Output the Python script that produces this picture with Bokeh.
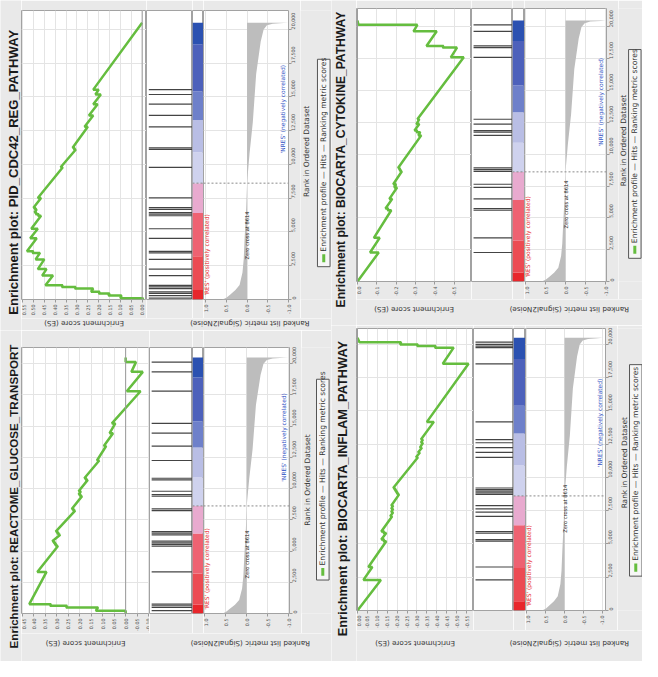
import math
from bokeh.plotting import figure
from bokeh.layouts import row, column
from bokeh.models import (Range1d, FixedTicker, PrintfTickFormatter, NumeralTickFormatter,
                          Label, Grid, Span)
from bokeh.core.properties import value
from bokeh.embed import file_html
from bokeh.resources import INLINE

SX = 642 / 658
SY = 661 / 677

# ---------------- data ----------------
ZERO_CROSS = 8614
RANK_TICKS = [0, 2500, 5000, 7500, 10000, 12500, 15000, 17500, 20000]
METRIC_TICKS = [1.0, 0.5, 0.0, -0.5, -1.0]

METRIC_RANK = [0, 50, 150, 360, 700, 1080, 2000, 3000, 4400, 6800, 8614, 10800,
               13150, 16700, 19100, 20000, 20300, 20420, 20470, 20500]
METRIC_VALUE = [0.62, 0.55, 0.49, 0.41, 0.28, 0.18, 0.11, 0.08, 0.06, 0.02, 0.0, -0.06,
                -0.14, -0.22, -0.33, -0.40, -0.48, -0.62, -0.88, -1.0]

BAR_EDGES = [0, 700, 3200, 6400, 8600, 10900, 13300, 15400, 18900, 20500]
BAR_COLORS = ["#e8262b", "#ec4b53", "#ee6272", "#e8aacf", "#cfd2ee", "#b9bee5",
              "#6e80ca", "#4d61bb", "#2b51b1"]

POS_LABEL = "'RES' (positively correlated)"
NEG_LABEL = "'NRES' (negatively correlated)"
LEGEND_TEXT = "Enrichment profile \u2014 Hits \u2014 Ranking metric scores"
ES_LABEL = "Enrichment score (ES)"
METRIC_LABEL = "Ranked list metric (Signal2Noise)"
RANK_LABEL = "Rank in Ordered Dataset"

TL_TITLE = "Enrichment plot: PID_CDC42_REG_PATHWAY"
TL_ES_TICKS = [0.55, 0.50, 0.45, 0.40, 0.35, 0.30, 0.25, 0.20, 0.15, 0.10, 0.05, 0.00]
TL_HITS = [100, 290, 450, 570, 810, 930, 1050, 1770, 2250, 2970, 3450, 3570, 4530, 5240,
           6200, 6320, 6440, 6680, 6800, 7520, 9790, 11110, 11230, 12790, 13630, 14460,
           15180, 15540]
TL_ES = [(0, 0.0), (100, -0.005), (100, 0.10), (290, 0.095), (290, 0.155), (450, 0.15),
         (450, 0.20), (570, 0.195), (570, 0.235), (810, 0.225), (810, 0.31), (930, 0.305),
         (930, 0.37), (1050, 0.365), (1050, 0.445), (1770, 0.41), (1770, 0.46), (2250, 0.44),
         (2250, 0.48), (2970, 0.45), (2970, 0.49), (3450, 0.47), (3450, 0.505), (3570, 0.50),
         (3570, 0.53), (4530, 0.485), (4530, 0.515), (5240, 0.48), (5240, 0.51), (6200, 0.465),
         (6200, 0.48), (6320, 0.475), (6320, 0.49), (6440, 0.485), (6440, 0.495), (6680, 0.485),
         (6680, 0.495), (6800, 0.49), (6800, 0.50), (7520, 0.465), (7520, 0.48), (9790, 0.365),
         (9790, 0.375), (11110, 0.305), (11110, 0.315), (11230, 0.31), (11230, 0.32),
         (12790, 0.25), (12790, 0.265), (13630, 0.225), (13630, 0.245), (14460, 0.205),
         (14460, 0.225), (15180, 0.19), (15180, 0.215), (15540, 0.20), (15540, 0.225),
         (20500, 0.0)]

TR_TITLE = "Enrichment plot: BIOCARTA_CYTOKINE_PATHWAY"
TR_ES_TICKS = [0.0, -0.1, -0.2, -0.3, -0.4, -0.5]
TR_HITS = [2280, 3430, 5600, 5730, 6490, 7390, 7640, 8660, 8790, 8920, 11480, 11730, 11860,
           12370, 12750, 17610, 18380, 18510, 19660, 20170]
TR_ES = [(0, 0.0), (2280, -0.11), (2280, -0.065), (3430, -0.115), (3430, -0.085),
         (5600, -0.175), (5600, -0.155), (5730, -0.16), (5730, -0.145), (6490, -0.18),
         (6490, -0.165), (7390, -0.205), (7390, -0.19), (7640, -0.2), (7640, -0.185),
         (8660, -0.23), (8660, -0.22), (8790, -0.225), (8790, -0.215), (8920, -0.22),
         (8920, -0.21), (11480, -0.33), (11480, -0.315), (11730, -0.325), (11730, -0.305),
         (11860, -0.31), (11860, -0.295), (12370, -0.32), (12370, -0.305), (12750, -0.32),
         (12750, -0.31), (17610, -0.55), (17610, -0.483), (18380, -0.515), (18380, -0.44),
         (18510, -0.446), (18510, -0.357), (19660, -0.41), (19660, -0.29), (20170, -0.31),
         (20170, -0.005), (20500, 0.0)]

BL_TITLE = "Enrichment plot: REACTOME_GLUCOSE_TRANSPORT"
BL_ES_TICKS = [0.45, 0.40, 0.35, 0.30, 0.25, 0.20, 0.15, 0.10, 0.05, 0.00, -0.05, -0.10]
BL_HITS = [230, 490, 620, 750, 3330, 5400, 5530, 5660, 5790, 6300, 6430, 6560, 8240, 8370,
           9400, 9530, 9790, 10700, 10830, 12250, 13410, 14440, 15220, 17800, 19350, 20130]
BL_ES = [(0, 0.0), (230, 0.0), (230, 0.13), (490, 0.12), (490, 0.26), (620, 0.255),
         (620, 0.33), (750, 0.325), (750, 0.42), (3330, 0.345), (3330, 0.385), (5400, 0.295),
         (5400, 0.305), (5530, 0.30), (5530, 0.31), (5660, 0.305), (5660, 0.315), (5790, 0.31),
         (5790, 0.32), (6300, 0.285), (6300, 0.295), (6430, 0.29), (6430, 0.30), (6560, 0.295),
         (6560, 0.305), (8240, 0.22), (8240, 0.23), (8370, 0.225), (8370, 0.235), (9400, 0.19),
         (9400, 0.20), (9530, 0.195), (9530, 0.205), (9790, 0.195), (9790, 0.205),
         (10700, 0.165), (10700, 0.175), (10830, 0.17), (10830, 0.18), (12250, 0.115),
         (12250, 0.125), (13410, 0.085), (13410, 0.095), (14440, 0.055), (14440, 0.07),
         (15220, 0.045), (15220, 0.06), (17800, -0.065), (17800, -0.005), (19350, -0.075),
         (19350, -0.025), (20130, -0.045), (20130, 0.0), (20500, 0.0)]

BR_TITLE = "Enrichment plot: BIOCARTA_INFLAM_PATHWAY"
BR_ES_TICKS = [0.00, -0.05, -0.10, -0.15, -0.20, -0.25, -0.30, -0.35, -0.40, -0.45, -0.50, -0.55]
BR_HITS = [2300, 3270, 5210, 5330, 5820, 5940, 7080, 7390, 7640, 7880, 8730, 8850, 8970,
           9090, 9210, 11515, 11880, 12240, 12610, 12850, 14180, 18545, 19760, 19880, 20000,
           20170]
BR_ES = [(0, 0.0), (2300, -0.118), (2300, -0.03), (3270, -0.075), (3270, -0.055),
         (5210, -0.145), (5210, -0.13), (5330, -0.135), (5330, -0.12), (5820, -0.145),
         (5820, -0.13), (5940, -0.135), (5940, -0.12), (7080, -0.175), (7080, -0.165),
         (7390, -0.18), (7390, -0.17), (7640, -0.18), (7640, -0.17), (7880, -0.18),
         (7880, -0.17), (8730, -0.21), (8730, -0.2), (8850, -0.205), (8850, -0.195),
         (8970, -0.2), (8970, -0.19), (9090, -0.195), (9090, -0.185), (9210, -0.19),
         (9210, -0.18), (11515, -0.305), (11515, -0.295), (11880, -0.315), (11880, -0.305),
         (12240, -0.325), (12240, -0.315), (12610, -0.33), (12610, -0.32), (12850, -0.33),
         (12850, -0.32), (14180, -0.385), (14180, -0.35), (18545, -0.56), (18545, -0.43),
         (19760, -0.485), (19760, -0.39), (19880, -0.395), (19880, -0.30), (20000, -0.305),
         (20000, -0.215), (20170, -0.22), (20170, -0.01), (20500, 0.0)]

# ---------------- layout geometry (reference pixels) ----------------
TB = 18   # band under the plots for tick labels
RB = 12   # band right of the metric plot for rank tick labels
GEOM = {
    "TL": dict(box=(0, 0, 339, 338), es_l=22, hits_l=150, cbar_l=197, met_l=208, met_r=295,
               f_top=10, f_bot=308, es_range=(0.555, -0.02), met_range=(1.05, -1.0),
               rank_top=21400, title=(14, 176), title_size=13.4, lab_y=331, rank_lab_x=313,
               leg=(331, 172), zero_y=242),
    "TR": dict(box=(339, 0, 319, 333), es_l=365, hits_l=483, cbar_l=525, met_l=537, met_r=621,
               f_top=8, f_bot=288, es_range=(0.005, -0.59), met_range=(1.025, -1.025),
               rank_top=21450, title=(349, 163), title_size=12.4, lab_y=316, rank_lab_x=638,
               leg=(650, 163), zero_y=209),
    "BL": dict(box=(0, 338, 339, 339), es_l=22, hits_l=153, cbar_l=197, met_l=208, met_r=296,
               f_top=355, f_bot=630, es_range=(0.454, -0.104), met_range=(1.03, -1.02),
               rank_top=21300, title=(14, 508), title_size=11.9, lab_y=658, rank_lab_x=314,
               leg=(330, 492), zero_y=569),
    "BR": dict(box=(339, 333, 319, 344), es_l=365, hits_l=485, cbar_l=526, met_l=538, met_r=620,
               f_top=336, f_bot=627, es_range=(0.005, -0.585), met_range=(1.03, -1.08),
               rank_top=21200, title=(350, 500), title_size=13.1, lab_y=658, rank_lab_x=639,
               leg=(651, 490), zero_y=522),
}

GREEN = "#65bd3f"
BG = "#e9e9e9"
GRID = "#e4e4e4"
OUTLINE = "#a2a2a2"
FONT = "DejaVu Sans"
TITLE_FONT = "Liberation Sans"


def fs(v):
    return f"{v * SY:.1f}px"


def px(v):
    return round(v * SX)


def py(v):
    return round(v * SY)


def base_fig(width, height, bl, br, bt, bb, xr, yr, xloc=None, yloc=None):
    p = figure(width=width, height=height, x_range=xr, y_range=yr,
               x_axis_location=xloc, y_axis_location=yloc, toolbar_location=None,
               output_backend="svg", min_border_left=bl, min_border_right=br,
               min_border_top=bt, min_border_bottom=bb)
    p.border_fill_color = BG
    p.background_fill_color = "white"
    p.outline_line_color = OUTLINE
    p.grid.visible = False
    return p


def strip(x0, x1, y0, y1):
    """Text strip whose data coordinates are the reference pixels (y downwards)."""
    p = figure(width=px(x1) - px(x0), height=py(y1) - py(y0),
               x_range=Range1d(x0, x1), y_range=Range1d(y1, y0),
               x_axis_location=None, y_axis_location=None, toolbar_location=None,
               output_backend="svg", min_border_left=0, min_border_right=0,
               min_border_top=0, min_border_bottom=0)
    p.border_fill_color = BG
    p.background_fill_color = BG
    p.outline_line_color = None
    p.grid.visible = False
    return p


def style_axis(ax, ticks, fmt):
    ax.ticker = FixedTicker(ticks=ticks)
    ax.formatter = fmt
    ax.major_label_orientation = math.pi / 2
    ax.major_label_text_font_size = fs(4.9)
    ax.major_label_text_font = FONT
    ax.major_label_text_color = "#555555"
    ax.major_tick_out = 3
    ax.major_tick_in = 0
    ax.minor_tick_line_color = None
    ax.major_tick_line_color = "#9a9a9a"
    ax.axis_line_color = None
    ax.major_label_standoff = 2


def add_grid(p, dim, ticks):
    p.add_layout(Grid(dimension=dim, ticker=FixedTicker(ticks=ticks),
                      grid_line_color=GRID, grid_line_width=1))


def lab(p, x, y, text, size, angle=0.0, color="#333333", align="center"):
    p.add_layout(Label(x=x, y=y, text=text, angle=angle, text_align=align,
                       text_baseline="middle", text_font_size=size, text_color=color,
                       text_font=FONT))


def txt(p, x, y, text, size, angle=0.0, color="#333333", align="center",
        font=FONT, style="normal"):
    p.text(x=[x], y=[y], text=[text], angle=angle, text_align=align,
           text_baseline="middle", text_font=value(font), text_font_size=value(size),
           text_font_style=value(style), text_color=color)


def make_panel(g, title, es_ticks, es_fmt, hits, es_pairs):
    ox, oy, W, H = g["box"]
    f_bot, f_top = g["f_bot"], g["f_top"]
    band_bot = f_bot + TB
    rank_right = g["met_r"] + RB

    height = py(band_bot) - py(oy)
    bt = py(f_top) - py(oy)
    bb = py(band_bot) - py(f_bot)

    e0, e1 = g["es_range"]
    m0, m1 = g["met_range"]

    def met_x(X):
        return m0 + (X - g["met_l"]) / (g["met_r"] - g["met_l"]) * (m1 - m0)

    def rank_y(Y):
        return (f_bot - Y) / (f_bot - f_top) * g["rank_top"]

    rank_range = Range1d(0, g["rank_top"])

    # --- enrichment score plot ---
    es = base_fig(px(g["hits_l"]) - px(g["es_l"]), height, 0, 0, bt, bb,
                  Range1d(e0, e1), rank_range, xloc="below")
    style_axis(es.xaxis[0], es_ticks, es_fmt)
    add_grid(es, 0, es_ticks)
    add_grid(es, 1, RANK_TICKS)
    es.add_layout(Span(location=0, dimension="height", line_color="#9a9a9a", line_width=1))
    es.line(x=[v for _, v in es_pairs], y=[r for r, _ in es_pairs],
            line_color=GREEN, line_width=2.5)

    # --- hits ---
    hf = base_fig(px(g["cbar_l"]) - px(g["hits_l"]), height, 0, 0, bt, bb,
                  Range1d(0, 1), rank_range)
    hf.segment(x0=0.05, x1=1.0, y0=hits, y1=hits, line_color="#444444", line_width=1.2)

    # --- colour bar ---
    cf = base_fig(px(g["met_l"]) - px(g["cbar_l"]), height, 0, 0, bt, bb,
                  Range1d(0, 1), rank_range)
    cf.quad(left=0, right=1, bottom=BAR_EDGES[:-1], top=BAR_EDGES[1:],
            fill_color=BAR_COLORS, line_color=None)
    cf.add_layout(Span(location=ZERO_CROSS, dimension="width", line_color="#8a8a8a",
                       line_width=1, line_dash="2 2"))

    # --- ranked list metric ---
    mf = base_fig(px(rank_right) - px(g["met_l"]), height, 0,
                  px(rank_right) - px(g["met_r"]), bt, bb,
                  Range1d(m0, m1), rank_range, xloc="below", yloc="right")
    style_axis(mf.xaxis[0], METRIC_TICKS, PrintfTickFormatter(format="%.1f"))
    style_axis(mf.yaxis[0], RANK_TICKS, NumeralTickFormatter(format="0,0"))
    add_grid(mf, 0, METRIC_TICKS)
    add_grid(mf, 1, RANK_TICKS)
    mf.harea(y=METRIC_RANK, x1=METRIC_VALUE, x2=0, fill_color="#bdbdbd")
    mf.add_layout(Span(location=ZERO_CROSS, dimension="width", line_color="#8a8a8a",
                       line_width=1, line_dash="2 2"))
    lab(mf, 0.0, rank_y(g["zero_y"]), f"Zero cross at {ZERO_CROSS}", fs(5.2),
        angle=math.pi / 2, color="#222222")
    lab(mf, met_x(g["met_l"] + 3.5), rank_y(f_bot - 4), POS_LABEL, fs(6.0),
        angle=math.pi / 2, color="#e8262b", align="left")
    lab(mf, met_x(g["met_r"] - 6), 14100, NEG_LABEL, fs(6.0),
        angle=math.pi / 2, color="#2f4fc4")

    # --- text strips ---
    ts = strip(ox, g["es_l"], oy, oy + H)
    txt(ts, g["title"][0], g["title"][1], title, fs(g["title_size"]), angle=math.pi / 2,
        color="#1a1a1a", font=TITLE_FONT, style="bold")

    rs = strip(rank_right, ox + W, oy, band_bot)
    txt(rs, g["rank_lab_x"], (f_top + f_bot) / 2, RANK_LABEL, fs(7.6), angle=math.pi / 2)
    lx, ly = g["leg"]
    rs.quad(left=lx - 6.5, right=lx + 6.5, top=ly - 117, bottom=ly + 117,
            fill_color="#f6f6f6", line_color="#555555", line_width=1)
    rs.segment(x0=lx, x1=lx, y0=ly + 112, y1=ly + 103, line_color=GREEN, line_width=3)
    txt(rs, lx, ly + 100, LEGEND_TEXT, fs(7.8), angle=math.pi / 2, align="left")

    bs = strip(g["es_l"], ox + W, band_bot, oy + H)
    txt(bs, (g["es_l"] + g["hits_l"]) / 2, g["lab_y"], ES_LABEL, fs(7.4), angle=math.pi)
    txt(bs, (g["met_l"] + g["met_r"]) / 2 + 4, g["lab_y"], METRIC_LABEL, fs(7.4),
        angle=math.pi)

    return row(ts, column(row(es, hf, cf, mf, rs), bs))


tl = make_panel(GEOM["TL"], TL_TITLE, TL_ES_TICKS, PrintfTickFormatter(format="%.2f"),
                TL_HITS, TL_ES)
tr = make_panel(GEOM["TR"], TR_TITLE, TR_ES_TICKS, PrintfTickFormatter(format="%.1f"),
                TR_HITS, TR_ES)
bl = make_panel(GEOM["BL"], BL_TITLE, BL_ES_TICKS, PrintfTickFormatter(format="%.2f"),
                BL_HITS, BL_ES)
br = make_panel(GEOM["BR"], BR_TITLE, BR_ES_TICKS, PrintfTickFormatter(format="%.2f"),
                BR_HITS, BR_ES)

layout = row(column(tl, bl), column(tr, br))

with open("out.html", "w") as f:
    f.write(file_html(layout, INLINE, "GSEA enrichment plots"))
